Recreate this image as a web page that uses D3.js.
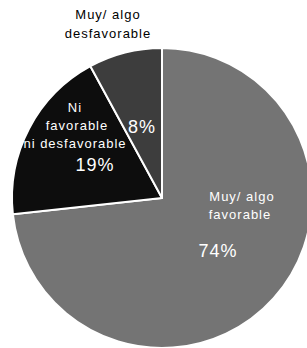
<!DOCTYPE html>
<html>
<head>
<meta charset="utf-8">
<script src="https://cdn.jsdelivr.net/npm/d3@7"></script>
<style>
  body { margin: 0; background: #fff; }
  svg { display: block; }
</style>
</head>
<body>
<script>
// datos
var categorias = ["Muy/ algo favorable", "Ni favorable ni desfavorable", "Muy/ algo desfavorable"];
var valores = [74, 19, 8];
var etiquetas = ["74%", "19%", "8%"];
var colores = ["#747474", "#0d0d0d", "#3d3d3d"];

const w = 307;
const h = 348;
const cx = 162, cy = 198, r = 150;

const svg = d3.select("body").append("svg")
  .attr("width", w)
  .attr("height", h)
  .attr("font-family", "Liberation Sans, Arial, sans-serif");

const g = svg.append("g")
  .attr("transform", "translate(" + cx + "," + cy + ")");

const pie = d3.pie().sort(null).value((d) => d);
const arcs = pie(valores);
const arc = d3.arc().innerRadius(0).outerRadius(r);

g.selectAll("path")
  .data(arcs)
  .enter()
  .append("path")
  .attr("d", arc)
  .attr("fill", (d, i) => colores[i])
  .attr("stroke", "#fff")
  .attr("stroke-width", 2)
  .attr("stroke-linejoin", "round");

// cubrir el trazo blanco del borde exterior no hace falta: fondo blanco

// textos de categoria (posiciones relativas al centro)
var lineas = [
  { t: "Muy/ algo", x: 242, y: 201, c: "#fff" },
  { t: "favorable", x: 240, y: 219, c: "#fff" },
  { t: "Ni", x: 75, y: 112, c: "#fff" },
  { t: "favorable", x: 77, y: 130, c: "#fff" },
  { t: "ni desfavorable", x: 75, y: 148, c: "#fff" },
  { t: "Muy/ algo", x: 108, y: 19, c: "#000" },
  { t: "desfavorable", x: 108, y: 38, c: "#000" }
];

svg.selectAll("text.cat")
  .data(lineas)
  .enter()
  .append("text")
  .attr("class", "cat")
  .attr("x", (d) => d.x)
  .attr("y", (d) => d.y)
  .attr("text-anchor", "middle")
  .attr("font-size", 13)
  .attr("letter-spacing", 1)
  .attr("fill", (d) => d.c)
  .text((d) => d.t);

var posPct = [[218, 257], [95, 171], [142, 133]];

svg.selectAll("text.pct")
  .data(etiquetas)
  .enter()
  .append("text")
  .attr("class", "pct")
  .attr("x", (d, i) => posPct[i][0])
  .attr("y", (d, i) => posPct[i][1])
  .attr("text-anchor", "middle")
  .attr("font-size", 18)
  .attr("letter-spacing", 1)
  .attr("fill", "#fff")
  .text((d) => d);
</script>
</body>
</html>
